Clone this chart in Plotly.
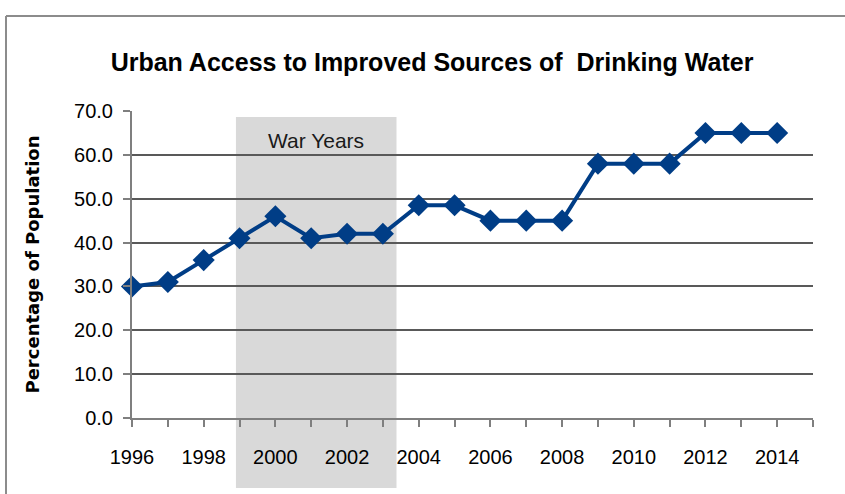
import plotly.graph_objects as go

years = list(range(1996, 2015))
values = [30, 31, 36, 41, 46, 41, 42, 42, 48.5, 48.5, 45, 45, 45, 58, 58, 58, 65, 65, 65]
war_start, war_end = 1998.9, 2003.38
tick_years = list(range(1996, 2016))
tick_text = [str(y) if (y % 2 == 0 and y <= 2014) else "" for y in tick_years]
y_ticks = [0, 10, 20, 30, 40, 50, 60, 70]
y_text = [f"{v:.1f}" for v in y_ticks]

W, H = 845, 494
ml, mr, mt, mb = 132, 32, 111, 76
pw, ph = W - ml - mr, H - mt - mb

def px_x(x):
    return (x - ml) / pw

def px_y(y):
    return (H - mb - y) / ph

fig = go.Figure()
fig.add_trace(go.Scatter(
    x=years, y=values, mode="lines+markers",
    line=dict(color="#003d86", width=4),
    marker=dict(symbol="diamond", size=17, color="#003d86"),
    hoverinfo="x+y", showlegend=False, cliponaxis=False,
))

shapes = [
    dict(type="rect", xref="x", yref="paper", x0=war_start, x1=war_end,
         y0=px_y(488), y1=px_y(117), fillcolor="#d9d9d9", line=dict(width=0), layer="below"),
    dict(type="line", xref="paper", yref="paper", x0=px_x(6), x1=px_x(6),
         y0=px_y(16), y1=px_y(520), line=dict(color="#8c8c8c", width=2)),
    dict(type="line", xref="paper", yref="paper", x0=px_x(6), x1=px_x(870),
         y0=px_y(16), y1=px_y(16), line=dict(color="#8c8c8c", width=2)),
]

fig.update_layout(
    width=W, height=H,
    margin=dict(l=ml, r=mr, t=mt, b=mb),
    paper_bgcolor="white", plot_bgcolor="white",
    shapes=shapes,
    title=dict(text="<b>Urban Access to Improved Sources of  Drinking Water</b>",
               x=432 / W, xanchor="center", y=1 - 62 / H, yanchor="middle",
               font=dict(family="Liberation Sans, Arial", size=25, color="#000000")),
    annotations=[dict(text="War Years", x=(war_start + war_end) / 2, y=63.3, xref="x", yref="y",
                      showarrow=False, font=dict(family="Liberation Sans, Arial", size=21, color="#1a1a1a"))],
    font=dict(family="Liberation Sans, Arial", color="#000000"),
)

fig.update_xaxes(
    range=[1996, 2015], tickmode="array", tickvals=tick_years, ticktext=tick_text,
    showgrid=False, zeroline=False, showline=True, linecolor="#7f7f7f", linewidth=2,
    ticks="outside", ticklen=7, tickwidth=2, tickcolor="#7f7f7f",
    ticklabelstandoff=13, tickfont=dict(size=20, family="Liberation Sans, Arial"),
)
fig.update_yaxes(
    range=[0, 70], tickmode="array", tickvals=y_ticks, ticktext=y_text,
    showgrid=True, gridcolor="#595959", gridwidth=1.5, zeroline=False,
    showline=True, linecolor="#7f7f7f", linewidth=2,
    ticks="outside", ticklen=7, tickwidth=2, tickcolor="#7f7f7f",
    ticklabelstandoff=6, tickfont=dict(size=20, family="Liberation Sans, Arial"),
    title=dict(text="<b>Percentage of Population</b>", standoff=30,
               font=dict(family="DejaVu Sans, Verdana", size=18, color="#000000")),
)

fig.write_html("out.html")
